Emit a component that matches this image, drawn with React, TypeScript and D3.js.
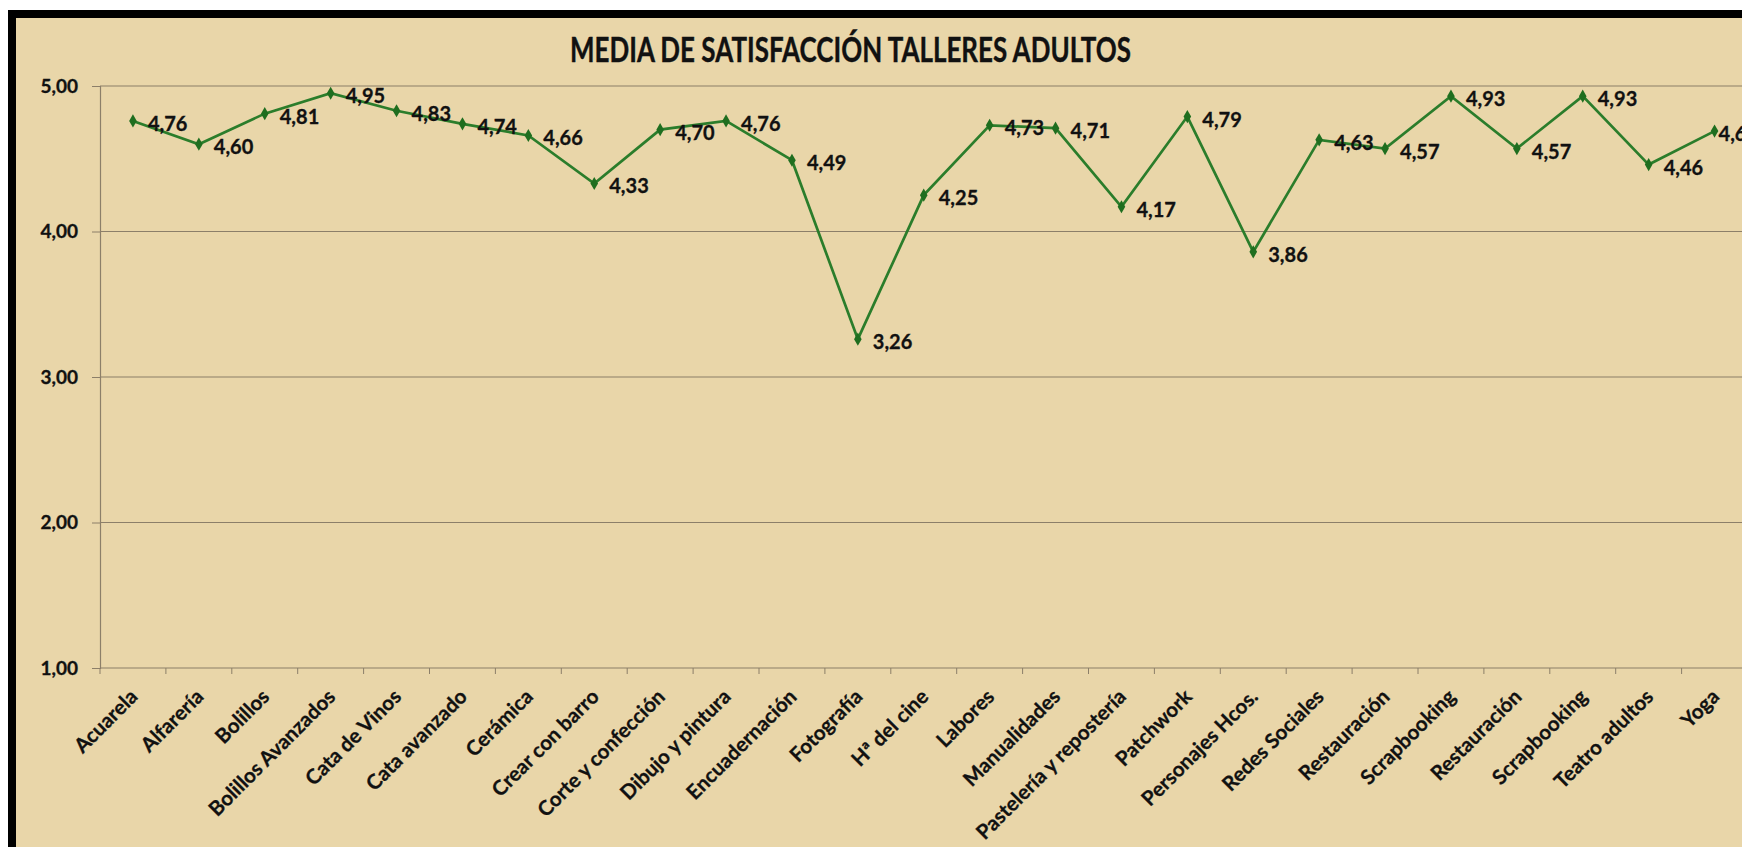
import React, { useEffect, useRef } from "react";
import * as d3 from "d3";

const categories = [
  "Acuarela",
  "Alfarería",
  "Bolillos",
  "Bolillos Avanzados",
  "Cata de Vinos",
  "Cata avanzado",
  "Cerámica",
  "Crear con barro",
  "Corte y confección",
  "Dibujo y pintura",
  "Encuadernación",
  "Fotografía",
  "Hª del cine",
  "Labores",
  "Manualidades",
  "Pastelería y repostería",
  "Patchwork",
  "Personajes Hcos.",
  "Redes Sociales",
  "Restauración",
  "Scrapbooking",
  "Restauración",
  "Scrapbooking",
  "Teatro adultos",
  "Yoga",
];

const satisfaction = [
  4.76, 4.6, 4.81, 4.95, 4.83, 4.74, 4.66, 4.33, 4.7, 4.76, 4.49, 3.26, 4.25,
  4.73, 4.71, 4.17, 4.79, 3.86, 4.63, 4.57, 4.93, 4.57, 4.93, 4.46, 4.69,
];

const yTicks = [1, 2, 3, 4, 5];

const title = "MEDIA DE SATISFACCIÓN TALLERES ADULTOS";

const App = () => {
  const ref = useRef<HTMLDivElement>(null);

  useEffect(() => {
    const width = 1742;
    const height = 847;
    const margin = { top: 86, left: 100, bottom: 668, right: 1747.5 };
    const font = "Lato, 'Open Sans', sans-serif";
    const ink = "#111";
    const fmt = (v: number) => d3.format(".2f")(v).replace(".", ",");

    d3.select(ref.current).selectAll("*").remove();
    const svg = d3
      .select(ref.current)
      .append("svg")
      .attr("width", width)
      .attr("height", height)
      .style("display", "block");

    // frame
    svg.append("rect").attr("width", width).attr("height", height).attr("fill", "#ffffff");
    svg.append("rect").attr("x", 8).attr("y", 10).attr("width", width).attr("height", height).attr("fill", "#000000");
    svg.append("rect").attr("x", 16).attr("y", 18).attr("width", width).attr("height", height).attr("fill", "#e9d6a9");

    const idx = categories.map((_, i) => i);
    const x = d3.scaleBand<number>().domain(idx).range([margin.left, margin.right]);
    const cx = (i: number) => (x(i) as number) + x.bandwidth() / 2;
    const y = d3.scaleLinear().domain([1, 5]).range([margin.bottom, margin.top]);

    // gridlines
    svg
      .append("g")
      .selectAll("line")
      .data(yTicks.filter((t) => t > 1))
      .join("line")
      .attr("x1", margin.left)
      .attr("x2", margin.right)
      .attr("y1", (d) => y(d))
      .attr("y2", (d) => y(d))
      .attr("stroke", "#8c7f69")
      .attr("stroke-width", 1.2);

    // y axis
    const yAxis = svg
      .append("g")
      .attr("transform", `translate(${margin.left},0)`)
      .call(d3.axisLeft(y).tickValues(yTicks).tickSize(8).tickPadding(14).tickFormat((d) => fmt(d as number)));
    yAxis.select(".domain").attr("stroke", "#8c7f69").attr("stroke-width", 1.2);
    yAxis.selectAll(".tick line").attr("stroke", "#8c7f69");
    yAxis
      .selectAll(".tick text")
      .attr("fill", ink)
      .attr("stroke", ink)
      .attr("stroke-width", 0.3)
      .style("font-family", font)
      .style("font-weight", 700)
      .style("font-size", "19px");

    // x axis line and ticks
    svg
      .append("line")
      .attr("x1", margin.left)
      .attr("x2", margin.right)
      .attr("y1", margin.bottom)
      .attr("y2", margin.bottom)
      .attr("stroke", "#8c7f69")
      .attr("stroke-width", 1.2);
    svg
      .append("g")
      .selectAll("line")
      .data(idx.concat([categories.length]))
      .join("line")
      .attr("x1", (i) => margin.left + i * x.step())
      .attr("x2", (i) => margin.left + i * x.step())
      .attr("y1", margin.bottom)
      .attr("y2", margin.bottom + 6)
      .attr("stroke", "#8c7f69");

    // x labels
    svg
      .append("g")
      .selectAll("text")
      .data(categories)
      .join("text")
      .attr("transform", (_, i) => `translate(${cx(i) + 6},${margin.bottom + 30}) rotate(-45)`)
      .attr("text-anchor", "end")
      .attr("fill", ink)
      .attr("stroke", ink)
      .attr("stroke-width", 0.3)
      .style("font-family", font)
      .style("font-weight", 700)
      .style("font-size", "20.5px")
      .text((d) => d);

    // line
    const line = d3
      .line<number>()
      .x((_, i) => cx(i))
      .y((d) => y(d));
    svg
      .append("path")
      .datum(satisfaction)
      .attr("fill", "none")
      .attr("stroke", "#2b7d2b")
      .attr("stroke-width", 2.7)
      .attr("d", line);

    // markers
    svg
      .append("g")
      .selectAll("path")
      .data(satisfaction)
      .join("path")
      .attr("transform", (d, i) => `translate(${cx(i)},${y(d)})`)
      .attr("d", d3.symbol(d3.symbolDiamond, 50)())
      .attr("fill", "#1f6e1f");

    // data labels (last one sits tight to its point, as in the source)
    const last = satisfaction.length - 1;
    svg
      .append("g")
      .selectAll("text")
      .data(satisfaction)
      .join("text")
      .attr("x", (_, i) => cx(i) + (i === last ? 4 : 15))
      .attr("y", (d) => y(d) + 3)
      .attr("dy", "0.35em")
      .attr("fill", ink)
      .attr("stroke", ink)
      .attr("stroke-width", 0.3)
      .style("font-family", font)
      .style("font-weight", 700)
      .style("font-size", "20px")
      .text((d) => fmt(d));

    // title
    svg
      .append("text")
      .attr("x", 570)
      .attr("y", 62)
      .attr("textLength", 561)
      .attr("lengthAdjust", "spacingAndGlyphs")
      .attr("fill", ink)
      .attr("stroke", ink)
      .attr("stroke-width", 0.4)
      .style("font-family", font)
      .style("font-weight", 700)
      .style("font-size", "35px")
      .text(title);
  }, []);

  return <div ref={ref} style={{ position: "fixed", left: 0, top: 0 }}></div>;
};

export default App;
